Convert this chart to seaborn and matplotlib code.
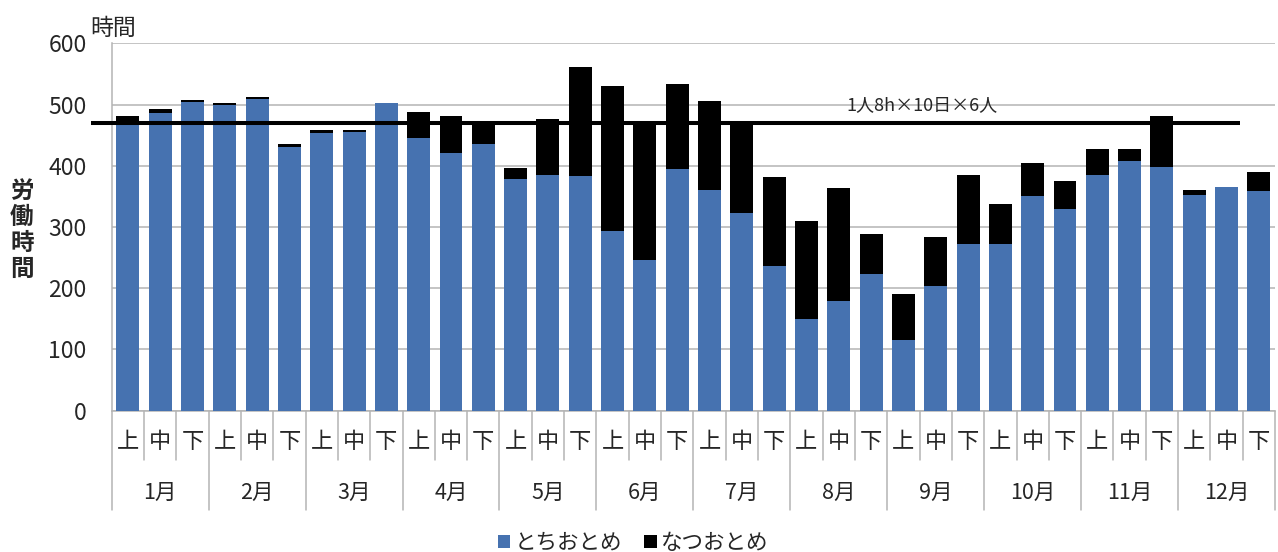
import matplotlib
matplotlib.use("Agg")
import matplotlib.pyplot as plt
import matplotlib.transforms as mtransforms
from matplotlib.patches import Patch
import pandas as pd
import seaborn as sns

# ---- data -------------------------------------------------------------
months = ["1月", "2月", "3月", "4月", "5月", "6月",
          "7月", "8月", "9月", "10月", "11月", "12月"]
thirds = ["上", "中", "下"]

# labour hours per ten-day period
tochiotome = [466, 487, 504, 499, 509, 430, 454, 455, 502, 446, 421, 436,
              379, 385, 383, 293, 246, 394, 360, 323, 237, 150, 179, 224,
              116, 203, 273, 272, 351, 330, 385, 407, 398, 352, 366, 358]
natsuotome = [15, 5, 3, 4, 4, 5, 4, 3, 0, 42, 60, 34,
              17, 91, 179, 237, 223, 140, 145, 145, 145, 159, 185, 64,
              74, 81, 112, 65, 53, 45, 43, 21, 83, 9, 0, 32]

capacity_hours = 470
capacity_label = "1人8h×10日×6人"
series_names = ["とちおとめ", "なつおとめ"]
y_ticks = [0, 100, 200, 300, 400, 500, 600]

# ---- styling ----------------------------------------------------------
BLUE = "#4672B0"
GRID = "#b4b4b4"
TEXT = "#262626"

sns.set_style("white")
plt.rcParams["font.family"] = ["Noto Sans CJK JP", "DejaVu Sans"]

keys = [m + t for m in months for t in thirds]
df = pd.DataFrame({
    "period": keys,
    "tochi": tochiotome,
    "natsu": natsuotome,
})
df["total"] = df["tochi"] + df["natsu"]

fig = plt.figure(figsize=(12.78, 5.52), dpi=100)
ax = fig.add_axes([0.0874, 0.256, 0.9103, 0.6655])

# stacked bars: total in black, lower segment in blue on top of it
sns.barplot(data=df, x="period", y="total", order=keys, color="black",
            saturation=1, width=0.71, linewidth=0, ax=ax, zorder=2)
sns.barplot(data=df, x="period", y="tochi", order=keys, color=BLUE,
            saturation=1, width=0.71, linewidth=0, ax=ax, zorder=3)

ax.set_xlim(-0.5, len(keys) - 0.5)
ax.set_ylim(0, 600)
ax.set_yticks(y_ticks)
ax.set_yticklabels([str(v) for v in y_ticks], fontsize=16.5, color=TEXT)
ax.yaxis.grid(True, color=GRID, linewidth=1.1, zorder=0)
ax.set_axisbelow(True)
ax.tick_params(axis="y", length=6, width=1.1, color=GRID, pad=12)
ax.set_xticks([])
ax.set_xlabel("")
ax.set_ylabel("")
for side in ["top", "right"]:
    ax.spines[side].set_visible(False)
for side in ["left", "bottom"]:
    ax.spines[side].set_color(GRID)
    ax.spines[side].set_linewidth(1.1)

# capacity reference line
ax.plot([-1.14, 34.42], [capacity_hours, capacity_hours], color="black",
        linewidth=2.9, clip_on=False, zorder=5, solid_capstyle="butt")
ax.text(0.6966, 0.832, capacity_label, transform=ax.transAxes,
        ha="center", va="center", fontsize=13, color=TEXT, zorder=6)

# two-level category axis
trans = mtransforms.blended_transform_factory(ax.transData, ax.transAxes)
for i in range(len(keys) + 1):
    bottom = -0.27 if i % 3 == 0 else -0.134
    ax.plot([i - 0.5, i - 0.5], [0, bottom], transform=trans,
            color=GRID, linewidth=1.1, clip_on=False)
for i, key in enumerate(keys):
    ax.text(i, -0.085, thirds[i % 3], transform=trans, ha="center",
            va="center", fontsize=16, color=TEXT)
for m, name in enumerate(months):
    ax.text(3 * m + 1, -0.224, name, transform=trans, ha="center",
            va="center", fontsize=15.5, color=TEXT)

# axis captions
fig.text(90 / 1278, 1 - 28 / 552, "時間", ha="left", va="center",
         fontsize=16.5, color=TEXT)
fig.text(22 / 1278, 1 - 230 / 552, "労\n働\n時\n間", ha="center",
         va="center", fontsize=17, fontweight="bold", color=TEXT,
         linespacing=1.1)

# legend
handles = [Patch(facecolor=BLUE, edgecolor="none"),
           Patch(facecolor="black", edgecolor="none")]
fig.legend(handles, series_names, loc="center", ncol=2,
           bbox_to_anchor=(633 / 1278, 1 - 543 / 552), frameon=False,
           fontsize=15.5, handlelength=0.6, handleheight=0.6,
           handletextpad=0.2, columnspacing=1.0, labelcolor=TEXT,
           borderpad=0, borderaxespad=0)

fig.savefig("out.png", dpi=100)
